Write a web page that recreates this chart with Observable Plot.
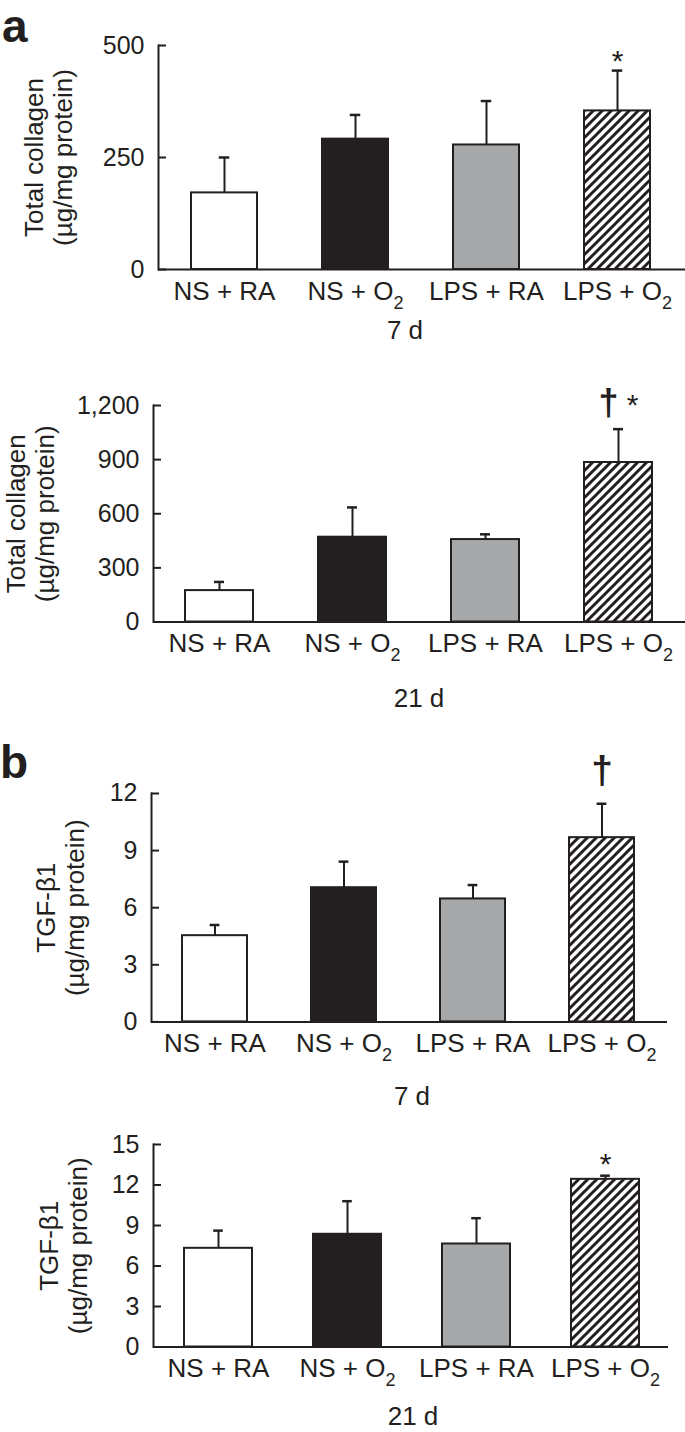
<!DOCTYPE html>
<html><head><meta charset="utf-8">
<script src="https://cdn.jsdelivr.net/npm/d3@7"></script>
<script src="https://cdn.jsdelivr.net/npm/@observablehq/plot@0.6"></script>
<style>
body{margin:0;background:#fff;}
#fig{position:relative;width:685px;height:1432px;font-family:"Liberation Sans",Arial,Helvetica,sans-serif;color:#231f20;overflow:hidden;background:#fff}
.letter{position:absolute;font-weight:bold;font-size:46px;line-height:1}
.cap{position:absolute;font-size:26px;line-height:1;transform:translateX(-50%);white-space:nowrap}
svg.p{position:absolute;left:0;overflow:visible}
</style></head><body>
<svg width="0" height="0" style="position:absolute">
 <defs>
  <pattern id="hatch" patternUnits="userSpaceOnUse" width="9" height="9">
   <rect width="9" height="9" fill="#fff"/>
   <path d="M-2.25,2.25 l4.5,-4.5 M0,9 l9,-9 M6.75,11.25 l4.5,-4.5" stroke="#231f20" stroke-width="3"/>
  </pattern>
 </defs>
</svg>
<div id="fig"></div>
<script>
// ---------- data ----------
const groups = ["NS + RA", "NS + O₂", "LPS + RA", "LPS + O₂"];

const collagen7Mean = [171, 291, 278, 354];
const collagen7SD   = [79, 54, 98, 90];
const collagen21Mean = [174, 470, 457, 884];
const collagen21SD   = [48, 165, 29, 185];
const tgf7Mean = [4.53, 7.05, 6.46, 9.68];
const tgf7SD   = [0.56, 1.37, 0.73, 1.78];
const tgf21Mean = [7.31, 8.35, 7.63, 12.42];
const tgf21SD   = [1.31, 2.45, 1.91, 0.27];

const collagen7Ticks = [0, 250, 500];
const collagen21Ticks = [0, 300, 600, 900, 1200];
const tgf7Ticks = [0, 3, 6, 9, 12];
const tgf21Ticks = [0, 3, 6, 9, 12, 15];

const collagen7Signif = [{group: "LPS + O₂", symbol: "*"}];
const collagen21Signif = [{group: "LPS + O₂", symbol: "†"}, {group: "LPS + O₂", symbol: "*"}];
const tgf7Signif = [{group: "LPS + O₂", symbol: "†"}];
const tgf21Signif = [{group: "LPS + O₂", symbol: "*"}];

const collagenTitle = "Total collagen\n(µg/mg protein)";
const tgfTitle = "TGF-β1\n(µg/mg protein)";
const dayLabels = ["7 d", "21 d", "7 d", "21 d"];
const panelLetters = ["a", "b"];

// ---------- styles / layout ----------
const ink = "#231f20";
const FONT = '"Liberation Sans", Arial, Helvetica, sans-serif';
const fills = ["#ffffff", ink, "#a7a8aa", "url(#hatch)"];

const panels = [
  {mean: collagen7Mean, sd: collagen7SD, ticks: collagen7Ticks, signif: collagen7Signif, title: collagenTitle, caption: dayLabels[0], fmt: d3.format(","),
   L: {yTop: 45, yZero: 269, xAxis: 158, xEnd: 685, range: [158, 682], pad: 0.5, titleX: 48, capX: 405, capBase: 339,
       symDy: {"*": -9, "†": -25}, symDx: {"*": 0, "†": 0}, daggerSize: 34}},
  {mean: collagen21Mean, sd: collagen21SD, ticks: collagen21Ticks, signif: collagen21Signif, title: collagenTitle, caption: dayLabels[1], fmt: d3.format(","),
   L: {yTop: 405, yZero: 621.5, xAxis: 153, xEnd: 685, range: [151.5, 685], pad: 0.49, titleX: 30, capX: 419, capBase: 707,
       symDy: {"*": -24, "†": -26}, symDx: {"*": 14, "†": -10}, daggerSize: 36}},
  {mean: tgf7Mean, sd: tgf7SD, ticks: tgf7Ticks, signif: tgf7Signif, title: tgfTitle, caption: dayLabels[2], fmt: d3.format(","),
   L: {yTop: 793.3, yZero: 1021.7, xAxis: 151, xEnd: 667, range: [149.5, 667.5], pad: 0.496, titleX: 60, capX: 412, capBase: 1105,
       symDy: {"*": -11, "†": -33}, symDx: {"*": 0, "†": 0}, daggerSize: 39}},
  {mean: tgf21Mean, sd: tgf21SD, ticks: tgf21Ticks, signif: tgf21Signif, title: tgfTitle, caption: dayLabels[3], fmt: d3.format(","),
   L: {yTop: 1143.5, yZero: 1346, xAxis: 153, xEnd: 668, range: [154, 670], pad: 0.47, titleX: 63, capX: 413, capBase: 1425,
       symDy: {"*": -11, "†": -30}, symDx: {"*": 0, "†": 0}, daggerSize: 36}}
];

const fig = document.getElementById("fig");

function subscriptify(svg) {
  svg.querySelectorAll("text").forEach(t => {
    if (t.children.length === 0 && t.textContent.includes("₂")) {
      const parts = t.textContent.split("₂");
      t.textContent = "";
      parts.forEach((p, i) => {
        if (p) t.appendChild(document.createTextNode(p));
        if (i < parts.length - 1) {
          const ts = document.createElementNS("http://www.w3.org/2000/svg", "tspan");
          ts.setAttribute("font-size", "18");
          ts.setAttribute("dy", "9");
          ts.textContent = "2";
          t.appendChild(ts);
        }
      });
    }
  });
}

panels.forEach(P => {
  const L = P.L;
  const data = groups.map((g, i) => ({group: g, value: P.mean[i], hi: P.mean[i] + P.sd[i]}));
  const hiOf = Object.fromEntries(data.map(d => [d.group, d.hi]));
  const step = (L.range[1] - L.range[0]) / (groups.length);
  const bw = step * (1 - L.pad);
  const capInset = (bw - 10) / 2;
  const svgTop = L.yTop - 52;
  const svgBottom = L.yZero + 50;
  const height = svgBottom - svgTop;
  const symbols = [...new Set(P.signif.map(d => d.symbol))];

  const chart = Plot.plot({
    width: 685,
    height,
    marginTop: L.yTop - svgTop,
    marginBottom: svgBottom - L.yZero,
    marginLeft: L.xAxis,
    marginRight: 685 - L.xEnd,
    style: {fontFamily: FONT, fontSize: "26px", color: ink, background: "transparent", overflow: "visible"},
    x: {domain: groups, range: L.range, paddingInner: L.pad, paddingOuter: L.pad / 2, align: 0.5},
    y: {domain: [0, P.ticks[P.ticks.length - 1]]},
    color: {domain: groups, range: fills},
    marks: [
      Plot.ruleX(data, {x: "group", y1: "value", y2: "hi", stroke: ink, strokeWidth: 2}),
      Plot.tickY(data, {x: "group", y: "hi", stroke: ink, strokeWidth: 2.5, insetLeft: capInset, insetRight: capInset}),
      Plot.barY(data, {x: "group", y: "value", fill: "group", stroke: ink, strokeWidth: 2}),
      Plot.axisY({ticks: P.ticks, tickSize: -8, tickPadding: 22, tickFormat: P.fmt, label: null, stroke: ink, strokeWidth: 2, fill: ink, fontSize: 25}),
      Plot.axisX({tickSize: 0, tickPadding: 12, label: null, fill: ink, fontSize: 26}),
      Plot.frame({anchor: "left", stroke: ink, strokeWidth: 2}),
      Plot.ruleY([0], {stroke: ink, strokeWidth: 2}),
      ...symbols.map(s => Plot.text(P.signif.filter(d => d.symbol === s), {
        x: "group", y: d => hiOf[d.group], text: "symbol",
        dx: L.symDx[s], dy: L.symDy[s], fontSize: s === "†" ? L.daggerSize : 30,
        fontWeight: s === "†" ? "bold" : "normal", fill: ink
      })),
      Plot.text([P.title], {text: d => d, frameAnchor: "left", textAnchor: "middle", lineAnchor: "middle",
        rotate: -90, dx: L.titleX - L.xAxis, lineHeight: 1.12, fontSize: 26, fill: ink})
    ]
  });
  chart.classList.add("p");
  chart.style.top = svgTop + "px";
  subscriptify(chart);
  fig.appendChild(chart);

  const cap = document.createElement("div");
  cap.className = "cap";
  cap.textContent = P.caption;
  cap.style.left = L.capX + "px";
  cap.style.top = (L.capBase - 26 * 0.8465) + "px";
  fig.appendChild(cap);
});

// panel letters (line-height 1 -> baseline at top + 0.8465em)
[[panelLetters[0], 2, 42], [panelLetters[1], 0, 778]].forEach(([t, x, base]) => {
  const d = document.createElement("div");
  d.className = "letter";
  d.textContent = t;
  d.style.left = x + "px";
  d.style.top = Math.max(0, base - 46 * 0.8465) + "px";
  fig.appendChild(d);
});
</script>
</body></html>
